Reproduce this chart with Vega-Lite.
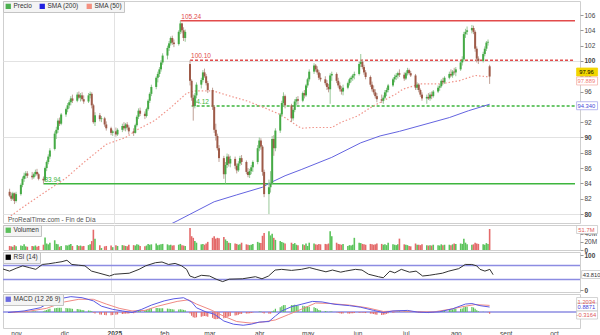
{
"$schema": "https://vega.github.io/schema/vega-lite/v6.json",
"padding": 0,
"spacing": 2,
"bounds": "flush",
"background": "white",
"config": {
  "font": "Liberation Sans",
  "view": {"stroke": "#cfcfcf"},
  "legend": {"orient": "top-left", "offset": 0, "padding": 2, "direction": "horizontal", "fillColor": "#f4f4f4", "strokeColor": "#c4c4c4", "symbolType": "square", "symbolSize": 28, "symbolStrokeWidth": 0, "labelFontSize": 6.5, "labelColor": "#333", "labelOffset": 2, "columnPadding": 7, "symbolOpacity": 1},
  "axis": {"labelFontSize": 6.5, "labelColor": "#444", "labelOverlap": false}
},
"resolve": {"scale": {"color": "independent"}, "legend": {"color": "independent"}},
"datasets": {
"candles": [
{"d":"2024-10-28","o":82.9,"h":83.3,"l":82.2,"c":82.4,"v":10,"m":-0.1},
{"d":"2024-10-29","o":82.4,"h":82.8,"l":81.7,"c":82.0,"v":9,"m":-0.1},
{"d":"2024-10-30","o":82.0,"h":82.9,"l":81.8,"c":82.7,"v":8,"m":0},
{"d":"2024-10-31","o":82.7,"h":82.8,"l":81.3,"c":81.7,"v":12,"m":-0.1},
{"d":"2024-11-01","o":81.7,"h":82.9,"l":81.5,"c":82.6,"v":9,"m":0.05},
{"d":"2024-11-04","o":82.6,"h":84.0,"l":82.4,"c":83.8,"v":11,"m":0.1},
{"d":"2024-11-05","o":83.8,"h":84.9,"l":83.5,"c":84.6,"v":10,"m":0.15},
{"d":"2024-11-06","o":84.6,"h":85.4,"l":84.2,"c":85.0,"v":14,"m":0.2},
{"d":"2024-11-07","o":85.0,"h":85.6,"l":84.6,"c":85.3,"v":9,"m":0.2},
{"d":"2024-11-08","o":85.3,"h":85.6,"l":84.7,"c":85.0,"v":8,"m":0.15},
{"d":"2024-11-11","o":85.0,"h":85.5,"l":84.5,"c":84.8,"v":10,"m":0.1},
{"d":"2024-11-12","o":84.8,"h":85.4,"l":84.6,"c":85.2,"v":9,"m":0.1},
{"d":"2024-11-13","o":85.2,"h":85.8,"l":84.9,"c":85.5,"v":11,"m":0.1},
{"d":"2024-11-14","o":85.5,"h":85.9,"l":85.0,"c":85.2,"v":8,"m":0.05},
{"d":"2024-11-15","o":85.2,"h":85.4,"l":84.4,"c":84.6,"v":10,"m":0},
{"d":"2024-11-18","o":84.6,"h":84.9,"l":83.94,"c":84.4,"v":13,"m":0.1},
{"d":"2024-11-19","o":84.4,"h":86.2,"l":84.2,"c":86.0,"v":31,"m":0.3},
{"d":"2024-11-20","o":86.0,"h":87.0,"l":85.6,"c":86.8,"v":16,"m":0.4},
{"d":"2024-11-21","o":86.8,"h":87.8,"l":86.5,"c":87.5,"v":14,"m":0.5},
{"d":"2024-11-22","o":87.5,"h":88.6,"l":87.2,"c":88.3,"v":18,"m":0.6},
{"d":"2024-11-25","o":88.5,"h":90.8,"l":88.3,"c":90.5,"v":24,"m":0.7},
{"d":"2024-11-26","o":90.5,"h":91.4,"l":89.8,"c":91.0,"v":15,"m":0.75},
{"d":"2024-11-27","o":91.0,"h":92.5,"l":90.6,"c":92.2,"v":14,"m":0.8},
{"d":"2024-11-28","o":92.2,"h":92.6,"l":91.5,"c":91.8,"v":8,"m":0.8},
{"d":"2024-11-29","o":91.8,"h":93.2,"l":91.6,"c":93.0,"v":10,"m":0.8},
{"d":"2024-12-02","o":93.0,"h":93.9,"l":92.7,"c":93.7,"v":12,"m":0.75},
{"d":"2024-12-03","o":93.7,"h":94.5,"l":93.3,"c":94.2,"v":11,"m":0.7},
{"d":"2024-12-04","o":94.2,"h":94.9,"l":93.8,"c":94.6,"v":13,"m":0.7},
{"d":"2024-12-05","o":94.6,"h":95.4,"l":94.2,"c":95.1,"v":15,"m":0.65},
{"d":"2024-12-06","o":95.1,"h":95.6,"l":94.5,"c":94.8,"v":10,"m":0.6},
{"d":"2024-12-09","o":94.8,"h":95.9,"l":94.6,"c":95.6,"v":12,"m":0.55},
{"d":"2024-12-10","o":95.6,"h":96.0,"l":95.0,"c":95.2,"v":10,"m":0.5},
{"d":"2024-12-11","o":95.2,"h":95.8,"l":94.7,"c":95.5,"v":11,"m":0.45},
{"d":"2024-12-12","o":95.5,"h":95.9,"l":94.8,"c":95.0,"v":9,"m":0.4},
{"d":"2024-12-13","o":95.0,"h":95.5,"l":94.4,"c":94.7,"v":10,"m":0.35},
{"d":"2024-12-16","o":94.7,"h":95.8,"l":94.5,"c":95.5,"v":12,"m":0.3},
{"d":"2024-12-17","o":95.5,"h":96.0,"l":95.1,"c":95.7,"v":14,"m":0.25},
{"d":"2024-12-18","o":95.7,"h":95.9,"l":93.8,"c":94.2,"v":22,"m":0.15},
{"d":"2024-12-19","o":94.2,"h":94.4,"l":91.8,"c":92.0,"v":50,"m":-0.1},
{"d":"2024-12-20","o":92.0,"h":93.3,"l":91.5,"c":92.9,"v":28,"m":-0.3},
{"d":"2024-12-23","o":92.9,"h":93.2,"l":92.1,"c":92.4,"v":12,"m":-0.45},
{"d":"2024-12-24","o":92.4,"h":92.8,"l":92.0,"c":92.5,"v":5,"m":-0.5},
{"d":"2024-12-26","o":92.5,"h":92.7,"l":91.4,"c":91.7,"v":9,"m":-0.55},
{"d":"2024-12-27","o":91.7,"h":92.1,"l":90.9,"c":91.2,"v":10,"m":-0.6},
{"d":"2024-12-30","o":91.2,"h":91.4,"l":90.3,"c":90.6,"v":11,"m":-0.6},
{"d":"2024-12-31","o":90.6,"h":91.0,"l":90.2,"c":90.8,"v":7,"m":-0.55},
{"d":"2025-01-02","o":90.8,"h":91.3,"l":90.1,"c":90.4,"v":12,"m":-0.5},
{"d":"2025-01-03","o":90.4,"h":91.2,"l":90.2,"c":91.0,"v":10,"m":-0.45},
{"d":"2025-01-06","o":91.0,"h":91.8,"l":90.7,"c":91.5,"v":12,"m":-0.4},
{"d":"2025-01-07","o":91.5,"h":92.0,"l":90.9,"c":91.2,"v":11,"m":-0.35},
{"d":"2025-01-08","o":91.2,"h":91.9,"l":90.8,"c":91.7,"v":10,"m":-0.3},
{"d":"2025-01-09","o":91.7,"h":92.0,"l":91.0,"c":91.3,"v":9,"m":-0.3},
{"d":"2025-01-10","o":91.3,"h":91.6,"l":90.4,"c":90.8,"v":13,"m":-0.3},
{"d":"2025-01-13","o":90.8,"h":91.2,"l":90.2,"c":90.6,"v":12,"m":-0.25},
{"d":"2025-01-14","o":90.6,"h":91.8,"l":90.5,"c":91.6,"v":11,"m":-0.1},
{"d":"2025-01-15","o":91.6,"h":92.9,"l":91.4,"c":92.7,"v":14,"m":0.1},
{"d":"2025-01-16","o":92.7,"h":93.8,"l":92.4,"c":93.5,"v":13,"m":0.3},
{"d":"2025-01-17","o":93.5,"h":93.9,"l":92.8,"c":93.1,"v":10,"m":0.35},
{"d":"2025-01-20","o":93.1,"h":93.4,"l":92.4,"c":92.8,"v":9,"m":0.35},
{"d":"2025-01-21","o":92.8,"h":93.9,"l":92.6,"c":93.7,"v":11,"m":0.4},
{"d":"2025-01-22","o":93.7,"h":95.0,"l":93.5,"c":94.8,"v":15,"m":0.5},
{"d":"2025-01-23","o":94.8,"h":95.9,"l":94.5,"c":95.7,"v":13,"m":0.6},
{"d":"2025-01-24","o":95.7,"h":96.9,"l":95.4,"c":96.6,"v":14,"m":0.7},
{"d":"2025-01-27","o":96.6,"h":98.0,"l":96.3,"c":97.8,"v":16,"m":0.75},
{"d":"2025-01-28","o":97.8,"h":98.6,"l":97.2,"c":98.3,"v":12,"m":0.75},
{"d":"2025-01-29","o":98.3,"h":99.2,"l":97.9,"c":98.9,"v":13,"m":0.7},
{"d":"2025-01-30","o":98.9,"h":100.1,"l":98.6,"c":99.8,"v":14,"m":0.7},
{"d":"2025-01-31","o":99.8,"h":101.0,"l":99.5,"c":100.7,"v":15,"m":0.7},
{"d":"2025-02-03","o":100.7,"h":102.0,"l":100.2,"c":101.7,"v":14,"m":0.65},
{"d":"2025-02-04","o":101.7,"h":102.6,"l":101.3,"c":102.3,"v":12,"m":0.6},
{"d":"2025-02-05","o":102.3,"h":103.2,"l":102.0,"c":103.0,"v":13,"m":0.55},
{"d":"2025-02-06","o":103.0,"h":103.3,"l":102.1,"c":102.4,"v":11,"m":0.5},
{"d":"2025-02-07","o":102.4,"h":102.8,"l":101.8,"c":102.2,"v":12,"m":0.45},
{"d":"2025-02-10","o":102.2,"h":104.0,"l":102.0,"c":103.8,"v":13,"m":0.45},
{"d":"2025-02-11","o":103.8,"h":105.24,"l":103.5,"c":104.9,"v":15,"m":0.5},
{"d":"2025-02-12","o":104.9,"h":105.0,"l":103.6,"c":104.0,"v":12,"m":0.45},
{"d":"2025-02-13","o":104.0,"h":104.4,"l":102.6,"c":103.0,"v":11,"m":0.4},
{"d":"2025-02-14","o":103.0,"h":104.1,"l":102.5,"c":103.8,"v":10,"m":0.35},
{"d":"2025-02-17","o":99.6,"h":100.1,"l":96.8,"c":97.4,"v":54,"m":-0.3},
{"d":"2025-02-18","o":97.4,"h":97.6,"l":94.8,"c":95.2,"v":34,"m":-0.7},
{"d":"2025-02-19","o":95.2,"h":95.6,"l":92.2,"c":94.1,"v":30,"m":-1.0},
{"d":"2025-02-20","o":94.1,"h":95.8,"l":93.8,"c":95.5,"v":22,"m":-1.1},
{"d":"2025-02-21","o":95.5,"h":97.2,"l":95.1,"c":96.9,"v":18,"m":-1.0},
{"d":"2025-02-24","o":96.9,"h":97.8,"l":96.4,"c":97.5,"v":14,"m":-0.9},
{"d":"2025-02-25","o":97.5,"h":98.8,"l":97.2,"c":98.5,"v":15,"m":-0.8},
{"d":"2025-02-26","o":98.5,"h":99.0,"l":97.8,"c":98.0,"v":13,"m":-0.75},
{"d":"2025-02-27","o":98.0,"h":98.3,"l":96.8,"c":97.1,"v":16,"m":-0.8},
{"d":"2025-02-28","o":97.1,"h":97.4,"l":95.8,"c":96.2,"v":20,"m":-0.9},
{"d":"2025-03-03","o":96.2,"h":96.5,"l":93.6,"c":94.0,"v":30,"m":-1.1},
{"d":"2025-03-04","o":94.0,"h":94.2,"l":90.6,"c":91.0,"v":34,"m":-1.3},
{"d":"2025-03-05","o":91.0,"h":91.8,"l":89.6,"c":90.2,"v":28,"m":-1.35},
{"d":"2025-03-06","o":90.2,"h":90.5,"l":88.3,"c":88.6,"v":30,"m":-1.3},
{"d":"2025-03-07","o":88.6,"h":89.0,"l":86.8,"c":87.3,"v":29,"m":-1.25},
{"d":"2025-03-10","o":87.3,"h":87.6,"l":84.6,"c":85.2,"v":32,"m":-1.2},
{"d":"2025-03-11","o":85.2,"h":86.8,"l":84.0,"c":86.4,"v":26,"m":-1.1},
{"d":"2025-03-12","o":86.4,"h":87.9,"l":86.0,"c":87.5,"v":22,"m":-0.95},
{"d":"2025-03-13","o":87.5,"h":87.8,"l":86.2,"c":86.6,"v":18,"m":-0.85},
{"d":"2025-03-14","o":86.6,"h":87.6,"l":86.1,"c":87.2,"v":17,"m":-0.75},
{"d":"2025-03-17","o":87.2,"h":87.5,"l":85.9,"c":86.3,"v":16,"m":-0.65},
{"d":"2025-03-18","o":86.3,"h":86.6,"l":85.3,"c":85.7,"v":15,"m":-0.6},
{"d":"2025-03-19","o":85.7,"h":86.9,"l":85.5,"c":86.6,"v":13,"m":-0.5},
{"d":"2025-03-20","o":86.6,"h":87.6,"l":86.3,"c":87.3,"v":14,"m":-0.4},
{"d":"2025-03-21","o":87.3,"h":87.7,"l":86.4,"c":86.8,"v":18,"m":-0.35},
{"d":"2025-03-24","o":86.8,"h":87.0,"l":85.2,"c":85.5,"v":14,"m":-0.3},
{"d":"2025-03-25","o":85.5,"h":86.0,"l":84.8,"c":85.1,"v":13,"m":-0.3},
{"d":"2025-03-26","o":85.1,"h":85.9,"l":84.7,"c":85.6,"v":12,"m":-0.25},
{"d":"2025-03-27","o":85.6,"h":86.4,"l":85.2,"c":86.1,"v":13,"m":-0.2},
{"d":"2025-03-28","o":86.1,"h":87.0,"l":85.5,"c":86.8,"v":15,"m":-0.1},
{"d":"2025-03-31","o":86.8,"h":89.0,"l":86.5,"c":88.6,"v":20,"m":0},
{"d":"2025-04-01","o":88.6,"h":90.0,"l":88.2,"c":89.6,"v":18,"m":0.1},
{"d":"2025-04-02","o":89.6,"h":89.9,"l":88.4,"c":88.8,"v":17,"m":0.1},
{"d":"2025-04-03","o":88.8,"h":89.0,"l":85.0,"c":85.5,"v":35,"m":-0.1},
{"d":"2025-04-04","o":85.5,"h":85.8,"l":82.2,"c":82.6,"v":42,"m":-0.3},
{"d":"2025-04-07","o":82.6,"h":84.5,"l":80.0,"c":83.5,"v":46,"m":-0.35},
{"d":"2025-04-08","o":83.5,"h":85.6,"l":82.8,"c":84.0,"v":36,"m":-0.3},
{"d":"2025-04-09","o":84.0,"h":90.2,"l":83.8,"c":89.8,"v":40,"m":0.1},
{"d":"2025-04-10","o":89.8,"h":90.3,"l":87.6,"c":88.6,"v":30,"m":0.3},
{"d":"2025-04-11","o":88.6,"h":91.2,"l":88.2,"c":90.9,"v":25,"m":0.6},
{"d":"2025-04-14","o":90.9,"h":93.2,"l":90.6,"c":93.0,"v":22,"m":0.9},
{"d":"2025-04-15","o":93.0,"h":94.8,"l":92.7,"c":94.5,"v":20,"m":1.1},
{"d":"2025-04-16","o":94.5,"h":95.9,"l":94.0,"c":95.4,"v":18,"m":1.3},
{"d":"2025-04-17","o":95.4,"h":95.6,"l":93.8,"c":94.2,"v":16,"m":1.3},
{"d":"2025-04-21","o":94.2,"h":94.4,"l":92.0,"c":92.5,"v":18,"m":1.3},
{"d":"2025-04-22","o":92.5,"h":93.8,"l":92.2,"c":93.6,"v":15,"m":1.3},
{"d":"2025-04-23","o":93.6,"h":95.0,"l":93.3,"c":94.7,"v":17,"m":1.35},
{"d":"2025-04-24","o":94.7,"h":95.3,"l":94.2,"c":95.0,"v":13,"m":1.3},
{"d":"2025-04-25","o":95.0,"h":95.4,"l":94.3,"c":94.8,"v":12,"m":1.25},
{"d":"2025-04-28","o":94.8,"h":96.0,"l":94.6,"c":95.8,"v":14,"m":1.2},
{"d":"2025-04-29","o":95.8,"h":96.2,"l":95.1,"c":95.5,"v":12,"m":1.1},
{"d":"2025-04-30","o":95.5,"h":97.0,"l":95.3,"c":96.8,"v":16,"m":1.05},
{"d":"2025-05-01","o":96.8,"h":97.8,"l":96.5,"c":97.6,"v":10,"m":1.0},
{"d":"2025-05-02","o":97.6,"h":98.9,"l":97.3,"c":98.6,"v":18,"m":1.0},
{"d":"2025-05-05","o":98.6,"h":99.7,"l":98.3,"c":99.4,"v":16,"m":0.9},
{"d":"2025-05-06","o":99.4,"h":99.6,"l":98.6,"c":98.9,"v":14,"m":0.75},
{"d":"2025-05-07","o":98.9,"h":99.3,"l":98.2,"c":98.5,"v":13,"m":0.6},
{"d":"2025-05-08","o":98.5,"h":98.8,"l":97.5,"c":97.8,"v":15,"m":0.4},
{"d":"2025-05-09","o":97.8,"h":98.4,"l":97.3,"c":97.6,"v":14,"m":0.3},
{"d":"2025-05-12","o":97.6,"h":98.0,"l":96.8,"c":97.1,"v":15,"m":0.2},
{"d":"2025-05-13","o":97.1,"h":97.5,"l":96.2,"c":96.6,"v":14,"m":0.1},
{"d":"2025-05-14","o":96.6,"h":97.0,"l":95.9,"c":96.3,"v":16,"m":0},
{"d":"2025-05-15","o":96.3,"h":98.4,"l":94.4,"c":98.1,"v":46,"m":0.1},
{"d":"2025-05-16","o":98.1,"h":98.6,"l":97.4,"c":98.3,"v":34,"m":0.1},
{"d":"2025-05-19","o":98.3,"h":98.5,"l":97.1,"c":97.4,"v":18,"m":-0.05},
{"d":"2025-05-20","o":97.4,"h":97.8,"l":96.5,"c":96.8,"v":15,"m":-0.15},
{"d":"2025-05-21","o":96.8,"h":97.2,"l":96.0,"c":96.3,"v":14,"m":-0.25},
{"d":"2025-05-22","o":96.3,"h":96.7,"l":95.6,"c":96.0,"v":13,"m":-0.3},
{"d":"2025-05-23","o":96.0,"h":96.9,"l":95.5,"c":96.5,"v":15,"m":-0.3},
{"d":"2025-05-26","o":96.5,"h":97.3,"l":96.3,"c":97.1,"v":10,"m":-0.3},
{"d":"2025-05-27","o":97.1,"h":97.8,"l":96.8,"c":97.6,"v":12,"m":-0.3},
{"d":"2025-05-28","o":97.6,"h":98.0,"l":97.2,"c":97.8,"v":11,"m":-0.25},
{"d":"2025-05-29","o":97.8,"h":98.3,"l":97.4,"c":98.1,"v":13,"m":-0.25},
{"d":"2025-05-30","o":98.1,"h":98.6,"l":97.6,"c":98.3,"v":30,"m":-0.2},
{"d":"2025-06-02","o":98.3,"h":99.9,"l":98.1,"c":99.6,"v":18,"m":-0.15},
{"d":"2025-06-03","o":99.6,"h":100.9,"l":99.2,"c":99.9,"v":17,"m":-0.1},
{"d":"2025-06-04","o":99.9,"h":100.2,"l":98.9,"c":99.2,"v":15,"m":-0.1},
{"d":"2025-06-05","o":99.2,"h":99.5,"l":98.2,"c":98.5,"v":14,"m":-0.15},
{"d":"2025-06-06","o":98.5,"h":98.8,"l":97.6,"c":97.9,"v":13,"m":-0.2},
{"d":"2025-06-09","o":97.9,"h":98.1,"l":96.6,"c":96.9,"v":15,"m":-0.3},
{"d":"2025-06-10","o":96.9,"h":97.3,"l":96.0,"c":96.3,"v":14,"m":-0.35},
{"d":"2025-06-11","o":96.3,"h":96.8,"l":95.6,"c":95.9,"v":13,"m":-0.4},
{"d":"2025-06-12","o":95.9,"h":96.3,"l":95.1,"c":95.4,"v":14,"m":-0.45},
{"d":"2025-06-13","o":95.4,"h":95.8,"l":94.6,"c":95.0,"v":16,"m":-0.5},
{"d":"2025-06-16","o":95.0,"h":95.6,"l":94.5,"c":94.8,"v":15,"m":-0.55},
{"d":"2025-06-17","o":94.8,"h":95.5,"l":94.4,"c":95.2,"v":13,"m":-0.5},
{"d":"2025-06-18","o":95.2,"h":96.2,"l":95.0,"c":95.9,"v":14,"m":-0.45},
{"d":"2025-06-19","o":95.9,"h":96.5,"l":95.4,"c":96.2,"v":12,"m":-0.35},
{"d":"2025-06-20","o":96.2,"h":97.0,"l":95.9,"c":96.8,"v":18,"m":-0.25},
{"d":"2025-06-23","o":96.8,"h":97.8,"l":96.6,"c":97.6,"v":14,"m":-0.15},
{"d":"2025-06-24","o":97.6,"h":98.2,"l":97.2,"c":97.9,"v":13,"m":-0.05},
{"d":"2025-06-25","o":97.9,"h":98.4,"l":97.5,"c":98.1,"v":12,"m":0.05},
{"d":"2025-06-26","o":98.1,"h":98.6,"l":97.7,"c":98.4,"v":14,"m":0.1},
{"d":"2025-06-27","o":98.4,"h":98.9,"l":97.9,"c":98.2,"v":28,"m":0.15},
{"d":"2025-06-30","o":98.2,"h":98.5,"l":97.4,"c":97.7,"v":14,"m":0.15},
{"d":"2025-07-01","o":97.7,"h":98.6,"l":97.5,"c":98.4,"v":13,"m":0.15},
{"d":"2025-07-02","o":98.4,"h":99.1,"l":98.1,"c":98.8,"v":12,"m":0.2},
{"d":"2025-07-03","o":98.8,"h":99.0,"l":98.2,"c":98.4,"v":10,"m":0.2},
{"d":"2025-07-04","o":98.4,"h":98.7,"l":97.9,"c":98.1,"v":9,"m":0.15},
{"d":"2025-07-07","o":98.1,"h":98.3,"l":96.2,"c":96.5,"v":16,"m":0.05},
{"d":"2025-07-08","o":96.5,"h":97.2,"l":96.2,"c":96.9,"v":13,"m":0},
{"d":"2025-07-09","o":96.9,"h":97.1,"l":95.9,"c":96.2,"v":13,"m":-0.1},
{"d":"2025-07-10","o":96.2,"h":96.4,"l":95.3,"c":95.6,"v":12,"m":-0.15},
{"d":"2025-07-11","o":95.6,"h":95.9,"l":94.8,"c":95.1,"v":14,"m":-0.2},
{"d":"2025-07-14","o":95.1,"h":95.6,"l":94.4,"c":95.3,"v":12,"m":-0.2},
{"d":"2025-07-15","o":95.3,"h":95.8,"l":94.9,"c":95.1,"v":11,"m":-0.2},
{"d":"2025-07-16","o":95.1,"h":95.9,"l":94.8,"c":95.6,"v":12,"m":-0.15},
{"d":"2025-07-17","o":95.6,"h":96.0,"l":95.0,"c":95.4,"v":11,"m":-0.15},
{"d":"2025-07-18","o":95.4,"h":96.2,"l":95.2,"c":96.0,"v":13,"m":-0.1},
{"d":"2025-07-21","o":96.0,"h":96.8,"l":95.8,"c":96.5,"v":12,"m":0},
{"d":"2025-07-22","o":96.5,"h":97.0,"l":96.1,"c":96.7,"v":11,"m":0.05},
{"d":"2025-07-23","o":96.7,"h":97.6,"l":96.5,"c":97.4,"v":14,"m":0.15},
{"d":"2025-07-24","o":97.4,"h":97.8,"l":96.9,"c":97.2,"v":12,"m":0.2},
{"d":"2025-07-25","o":97.2,"h":98.0,"l":97.0,"c":97.8,"v":13,"m":0.3},
{"d":"2025-07-28","o":97.8,"h":98.6,"l":97.6,"c":98.3,"v":13,"m":0.4},
{"d":"2025-07-29","o":98.3,"h":98.9,"l":97.9,"c":98.1,"v":12,"m":0.45},
{"d":"2025-07-30","o":98.1,"h":98.8,"l":97.8,"c":98.6,"v":14,"m":0.5},
{"d":"2025-07-31","o":98.6,"h":99.1,"l":98.2,"c":98.5,"v":16,"m":0.55},
{"d":"2025-08-01","o":98.5,"h":99.2,"l":98.0,"c":98.9,"v":15,"m":0.6},
{"d":"2025-08-04","o":98.9,"h":100.0,"l":98.7,"c":99.8,"v":16,"m":0.6},
{"d":"2025-08-05","o":99.8,"h":100.6,"l":99.4,"c":100.2,"v":15,"m":0.65},
{"d":"2025-08-06","o":100.2,"h":103.8,"l":100.0,"c":103.5,"v":28,"m":0.9},
{"d":"2025-08-07","o":103.5,"h":104.2,"l":103.0,"c":103.8,"v":18,"m":1.0},
{"d":"2025-08-08","o":103.8,"h":104.5,"l":103.4,"c":104.0,"v":14,"m":1.0},
{"d":"2025-08-11","o":104.0,"h":104.7,"l":103.6,"c":104.3,"v":13,"m":0.95},
{"d":"2025-08-12","o":104.3,"h":104.6,"l":103.5,"c":103.8,"v":14,"m":0.85},
{"d":"2025-08-13","o":103.8,"h":104.0,"l":101.2,"c":101.6,"v":18,"m":0.6},
{"d":"2025-08-14","o":101.6,"h":101.9,"l":99.8,"c":100.3,"v":16,"m":0.35},
{"d":"2025-08-15","o":100.3,"h":100.6,"l":99.6,"c":100.0,"v":15,"m":0.15},
{"d":"2025-08-18","o":100.0,"h":101.2,"l":99.8,"c":100.9,"v":14,"m":0.05},
{"d":"2025-08-19","o":100.9,"h":101.9,"l":100.6,"c":101.6,"v":13,"m":0},
{"d":"2025-08-20","o":101.6,"h":102.6,"l":101.3,"c":102.4,"v":17,"m":0},
{"d":"2025-08-21","o":102.4,"h":102.8,"l":102.0,"c":102.5,"v":15,"m":-0.05},
{"d":"2025-08-22","o":99.3,"h":99.5,"l":97.0,"c":97.96,"v":51.7,"m":-0.32}
],
"sma50": [
{"d":"2024-10-27","p":79.5},{"d":"2024-11-08","p":81.3},{"d":"2024-11-20","p":83.0},{"d":"2024-12-02","p":84.7},{"d":"2024-12-14","p":86.9},{"d":"2024-12-27","p":89.1},{"d":"2025-01-08","p":90.0},{"d":"2025-01-16","p":91.1},{"d":"2025-01-26","p":92.2},{"d":"2025-02-05","p":93.9},{"d":"2025-02-15","p":95.8},{"d":"2025-02-21","p":96.1},{"d":"2025-03-03","p":96.1},{"d":"2025-03-14","p":95.4},{"d":"2025-03-24","p":94.8},{"d":"2025-04-04","p":93.9},{"d":"2025-04-14","p":93.0},{"d":"2025-04-27","p":91.2},{"d":"2025-05-04","p":91.3},{"d":"2025-05-16","p":91.3},{"d":"2025-05-22","p":92.0},{"d":"2025-06-01","p":92.8},{"d":"2025-06-09","p":93.9},{"d":"2025-06-17","p":94.8},{"d":"2025-06-25","p":95.7},{"d":"2025-06-29","p":96.3},{"d":"2025-07-10","p":97.0},{"d":"2025-07-22","p":97.0},{"d":"2025-08-03","p":97.4},{"d":"2025-08-13","p":98.1},{"d":"2025-08-22","p":97.9}
],
"sma200": [
{"d":"2025-01-20","p":77.0},{"d":"2025-02-09","p":79.1},{"d":"2025-03-04","p":81.6},{"d":"2025-03-18","p":82.5},{"d":"2025-04-03","p":83.5},{"d":"2025-04-07","p":84.0},{"d":"2025-04-17","p":85.0},{"d":"2025-04-27","p":85.8},{"d":"2025-05-16","p":87.4},{"d":"2025-06-03","p":89.3},{"d":"2025-06-15","p":90.2},{"d":"2025-06-27","p":90.8},{"d":"2025-07-16","p":91.9},{"d":"2025-07-28","p":92.6},{"d":"2025-08-09","p":93.5},{"d":"2025-08-22","p":94.34}
],
"levels": [
{"d":"2025-02-11","e":"2025-10-14","p":105.24,"side":"resistance","kind":"major"},
{"d":"2025-02-17","e":"2025-10-14","p":100.10,"side":"resistance","kind":"minor"},
{"d":"2025-02-18","e":"2025-10-14","p":94.12,"side":"support","kind":"minor"},
{"d":"2024-11-18","e":"2025-10-14","p":83.94,"side":"support","kind":"major"}
],
"rsi": [
{"d":"2024-10-27","r":60},{"d":"2024-10-31","r":54},{"d":"2024-11-04","r":62},{"d":"2024-11-08","r":69},{"d":"2024-11-12","r":64},{"d":"2024-11-16","r":59},{"d":"2024-11-20","r":73},{"d":"2024-11-24","r":75},{"d":"2024-11-28","r":78},{"d":"2024-12-02","r":81},{"d":"2024-12-05","r":85},{"d":"2024-12-08","r":73},{"d":"2024-12-12","r":71},{"d":"2024-12-16","r":69},{"d":"2024-12-20","r":54},{"d":"2024-12-24","r":49},{"d":"2024-12-31","r":40},{"d":"2025-01-03","r":45},{"d":"2025-01-12","r":48},{"d":"2025-01-18","r":59},{"d":"2025-01-22","r":69},{"d":"2025-01-28","r":78},{"d":"2025-02-01","r":80},{"d":"2025-02-05","r":73},{"d":"2025-02-09","r":76},{"d":"2025-02-13","r":69},{"d":"2025-02-16","r":59},{"d":"2025-02-18","r":40},{"d":"2025-02-21","r":35},{"d":"2025-02-25","r":42},{"d":"2025-03-02","r":40},{"d":"2025-03-06","r":31},{"d":"2025-03-10","r":24},{"d":"2025-03-14","r":31},{"d":"2025-03-22","r":32},{"d":"2025-03-30","r":38},{"d":"2025-04-03","r":32},{"d":"2025-04-07","r":40},{"d":"2025-04-11","r":57},{"d":"2025-04-15","r":59},{"d":"2025-04-21","r":56},{"d":"2025-04-27","r":59},{"d":"2025-05-02","r":64},{"d":"2025-05-06","r":59},{"d":"2025-05-12","r":52},{"d":"2025-05-16","r":57},{"d":"2025-05-21","r":51},{"d":"2025-05-24","r":54},{"d":"2025-05-30","r":59},{"d":"2025-06-03","r":57},{"d":"2025-06-07","r":45},{"d":"2025-06-13","r":38},{"d":"2025-06-16","r":35},{"d":"2025-06-20","r":54},{"d":"2025-06-23","r":49},{"d":"2025-06-27","r":59},{"d":"2025-07-02","r":51},{"d":"2025-07-06","r":54},{"d":"2025-07-10","r":40},{"d":"2025-07-14","r":42},{"d":"2025-07-18","r":45},{"d":"2025-07-22","r":48},{"d":"2025-07-26","r":54},{"d":"2025-08-01","r":61},{"d":"2025-08-05","r":73},{"d":"2025-08-09","r":73},{"d":"2025-08-12","r":69},{"d":"2025-08-14","r":59},{"d":"2025-08-17","r":54},{"d":"2025-08-20","r":59},{"d":"2025-08-22","r":43.81}
],
"macd": [
{"d":"2024-10-27","v":-0.1},{"d":"2024-11-06","v":0.2},{"d":"2024-11-16","v":0.8},{"d":"2024-11-22","v":1.8},{"d":"2024-11-28","v":2.5},{"d":"2024-12-05","v":2.9},{"d":"2024-12-12","v":2.7},{"d":"2024-12-19","v":2.1},{"d":"2024-12-24","v":1.1},{"d":"2024-12-31","v":0.5},{"d":"2025-01-06","v":0.2},{"d":"2025-01-12","v":-0.1},{"d":"2025-01-18","v":0.5},{"d":"2025-01-24","v":1.3},{"d":"2025-02-01","v":2.1},{"d":"2025-02-07","v":2.5},{"d":"2025-02-13","v":2.7},{"d":"2025-02-18","v":1.9},{"d":"2025-02-21","v":0.8},{"d":"2025-02-27","v":0},{"d":"2025-03-04","v":-0.4},{"d":"2025-03-10","v":-1.7},{"d":"2025-03-16","v":-2.3},{"d":"2025-03-22","v":-2.5},{"d":"2025-03-27","v":-2.3},{"d":"2025-04-01","v":-1.9},{"d":"2025-04-07","v":-1.8},{"d":"2025-04-11","v":-0.75},{"d":"2025-04-15","v":0.2},{"d":"2025-04-21","v":1.0},{"d":"2025-04-27","v":1.45},{"d":"2025-05-04","v":2.0},{"d":"2025-05-10","v":1.9},{"d":"2025-05-18","v":1.45},{"d":"2025-05-27","v":1.2},{"d":"2025-06-03","v":0.9},{"d":"2025-06-11","v":0.3},{"d":"2025-06-17","v":-0.1},{"d":"2025-06-23","v":0.2},{"d":"2025-07-02","v":0.3},{"d":"2025-07-08","v":0},{"d":"2025-07-14","v":-0.1},{"d":"2025-07-22","v":0.05},{"d":"2025-07-30","v":0.6},{"d":"2025-08-07","v":1.5},{"d":"2025-08-11","v":1.6},{"d":"2025-08-16","v":1.2},{"d":"2025-08-22","v":0.94}
],
"signal": [
{"d":"2024-10-27","v":-0.1},{"d":"2024-11-08","v":0.1},{"d":"2024-11-20","v":0.7},{"d":"2024-12-01","v":1.9},{"d":"2024-12-10","v":2.4},{"d":"2024-12-19","v":2.4},{"d":"2024-12-27","v":1.5},{"d":"2025-01-04","v":0.7},{"d":"2025-01-12","v":0.2},{"d":"2025-01-20","v":0.3},{"d":"2025-01-28","v":1.1},{"d":"2025-02-09","v":2.0},{"d":"2025-02-16","v":2.3},{"d":"2025-02-21","v":1.5},{"d":"2025-03-02","v":0.4},{"d":"2025-03-10","v":-0.8},{"d":"2025-03-18","v":-1.8},{"d":"2025-03-27","v":-2.1},{"d":"2025-04-03","v":-1.9},{"d":"2025-04-11","v":-1.5},{"d":"2025-04-19","v":-0.5},{"d":"2025-04-27","v":0.5},{"d":"2025-05-06","v":1.7},{"d":"2025-05-15","v":1.6},{"d":"2025-05-27","v":1.3},{"d":"2025-06-07","v":0.8},{"d":"2025-06-17","v":0.1},{"d":"2025-06-27","v":0.2},{"d":"2025-07-08","v":0.05},{"d":"2025-07-18","v":0},{"d":"2025-07-28","v":0.5},{"d":"2025-08-07","v":1.1},{"d":"2025-08-13","v":1.4},{"d":"2025-08-22","v":1.25}
]
},
"vconcat": [
{
"width": 577, "height": 222,
"resolve": {"axis": {"x": "independent", "y": "independent"}},
"layer": [
{"data": {"values": [{"s":"Precio"},{"s":"SMA (200)"},{"s":"SMA (50)"}]},
 "mark": {"type":"square","opacity":0},
 "encoding": {"color": {"field":"s","type":"nominal","scale":{"domain":["Precio","SMA (200)","SMA (50)"],"range":["#4caf50","#2020e0","#f4907f"]},"legend":{"title":null}}}},
{"data": {"name":"levels"},
 "mark": {"type":"rule","strokeWidth":1.5},
 "encoding": {
  "x": {"field":"d","type":"temporal","title":null,"scale":{"type":"utc","nice":false,"domain":[{"year":2024,"month":10,"date":27,"utc":true},{"year":2025,"month":10,"date":14,"utc":true}]},"axis":{"orient":"bottom","values":[{"year":2025,"month":1,"date":1,"utc":true}],"grid":true,"gridColor":"#e2e2e2","labels":false,"ticks":false,"domain":false}},
  "x2": {"field":"e"},
  "y": {"field":"p","type":"quantitative","title":null,"scale":{"domain":[78.825,107.83],"nice":false,"zero":false},"axis":{"orient":"right","values":[80,82,84,86,88,90,92,94,96,98,100,102,104,106],"tickSize":3,"tickColor":"#999","domain":false,"labelPadding":1,"grid":true,"gridColor":"#e2e2e2","gridOpacity":{"condition":{"test":"datum.value % 10 === 0","value":1},"value":0},"labelFontWeight":{"condition":{"test":"datum.value % 10 === 0","value":"bold"},"value":"normal"}}},
  "stroke": {"condition":{"test":"datum.side === 'resistance'","value":"#e24b4b"},"value":"#3db53d"},
  "strokeDash": {"condition":{"test":"datum.kind === 'minor'","value":[3,2]},"value":[1,0]}
 }},
{"data": {"name":"levels"},
 "mark": {"type":"text","align":"left","baseline":"bottom","dx":1,"dy":-1,"fontSize":6.5},
 "encoding": {
  "x": {"field":"d","type":"temporal","scale":{"type":"utc","nice":false,"domain":[{"year":2024,"month":10,"date":27,"utc":true},{"year":2025,"month":10,"date":14,"utc":true}]},"axis":null},
  "y": {"field":"p","type":"quantitative","scale":{"domain":[78.825,107.83],"nice":false,"zero":false},"axis":null},
  "text": {"field":"p","type":"quantitative","format":".2f"},
  "color": {"condition":{"test":"datum.side === 'resistance'","value":"#e24b4b"},"value":"#3db53d"}
 }},
{"data": {"name":"sma50"},
 "mark": {"type":"line","color":"#f0948a","strokeWidth":1.2,"strokeDash":[1.5,2],"clip":true},
 "encoding": {
  "x": {"field":"d","type":"temporal","scale":{"type":"utc","nice":false,"domain":[{"year":2024,"month":10,"date":27,"utc":true},{"year":2025,"month":10,"date":14,"utc":true}]},"axis":null},
  "y": {"field":"p","type":"quantitative","scale":{"domain":[78.825,107.83],"nice":false,"zero":false},"axis":null}
 }},
{"data": {"name":"sma200"},
 "mark": {"type":"line","color":"#6464e0","strokeWidth":1,"clip":true},
 "encoding": {
  "x": {"field":"d","type":"temporal","scale":{"type":"utc","nice":false,"domain":[{"year":2024,"month":10,"date":27,"utc":true},{"year":2025,"month":10,"date":14,"utc":true}]},"axis":null},
  "y": {"field":"p","type":"quantitative","scale":{"domain":[78.825,107.83],"nice":false,"zero":false},"axis":null}
 }},
{"data": {"name":"candles"},
 "mark": {"type":"rule","strokeWidth":1},
 "encoding": {
  "x": {"field":"d","type":"temporal","scale":{"type":"utc","nice":false,"domain":[{"year":2024,"month":10,"date":27,"utc":true},{"year":2025,"month":10,"date":14,"utc":true}]},"axis":null},
  "y": {"field":"l","type":"quantitative","scale":{"domain":[78.825,107.83],"nice":false,"zero":false},"axis":null},
  "y2": {"field":"h"},
  "color": {"condition":{"test":"datum.c >= datum.o","value":"#98c898"},"value":"#bfa096"}
 }},
{"data": {"name":"candles"},
 "mark": {"type":"bar","width":2},
 "encoding": {
  "x": {"field":"d","type":"temporal","scale":{"type":"utc","nice":false,"domain":[{"year":2024,"month":10,"date":27,"utc":true},{"year":2025,"month":10,"date":14,"utc":true}]},"axis":null},
  "y": {"field":"o","type":"quantitative","scale":{"domain":[78.825,107.83],"nice":false,"zero":false},"axis":null},
  "y2": {"field":"c"},
  "color": {"condition":{"test":"datum.c >= datum.o","value":"#45aa45"},"value":"#9e5a48"}
 }},
{"data": {"values": [{"t":"97.96","p":98.55,"role":"last"},{"t":"97.889","p":97.38,"role":"sma50"},{"t":"94.340","p":94.15,"role":"sma200"}]},
 "mark": {"type":"rect","yOffset":-4,"y2Offset":4,"strokeWidth":0.8},
 "encoding": {
  "x": {"datum":{"year":2025,"month":10,"date":15,"utc":true},"type":"temporal","scale":{"type":"utc","nice":false,"domain":[{"year":2024,"month":10,"date":27,"utc":true},{"year":2025,"month":10,"date":14,"utc":true}]},"axis":null},
  "x2": {"datum":{"year":2025,"month":10,"date":28,"utc":true}},
  "y": {"field":"p","type":"quantitative","scale":{"domain":[78.825,107.83],"nice":false,"zero":false},"axis":null},
  "y2": {"field":"p"},
  "fill": {"condition":{"test":"datum.role === 'last'","value":"#f2d600"},"value":"#ffffff"},
  "stroke": {"condition":[{"test":"datum.role === 'last'","value":"#f2d600"},{"test":"datum.role === 'sma50'","value":"#f4b0a8"}],"value":"#a8a8ec"}
 }},
{"data": {"values": [{"t":"97.96","p":98.55,"role":"last"},{"t":"97.889","p":97.38,"role":"sma50"},{"t":"94.340","p":94.15,"role":"sma200"}]},
 "mark": {"type":"text","align":"center","baseline":"middle","fontSize":5.8},
 "encoding": {
  "x": {"datum":{"year":2025,"month":10,"date":21,"hours":2,"utc":true},"type":"temporal","scale":{"type":"utc","nice":false,"domain":[{"year":2024,"month":10,"date":27,"utc":true},{"year":2025,"month":10,"date":14,"utc":true}]},"axis":null},
  "y": {"field":"p","type":"quantitative","scale":{"domain":[78.825,107.83],"nice":false,"zero":false},"axis":null},
  "text": {"field":"t"},
  "color": {"condition":[{"test":"datum.role === 'last'","value":"#000000"},{"test":"datum.role === 'sma50'","value":"#f08078"}],"value":"#4848d8"},
  "fontWeight": {"condition":{"test":"datum.role === 'last'","value":"bold"},"value":"normal"}
 }},
{"data": {"values": [{"t":"ProRealTime.com - Fin de Día"}]},
 "mark": {"type":"text","align":"left","baseline":"bottom","dy":-0.5,"fontSize":6.5,"color":"#555"},
 "encoding": {
  "x": {"datum":{"year":2024,"month":10,"date":27,"utc":true},"type":"temporal","scale":{"type":"utc","nice":false,"domain":[{"year":2024,"month":10,"date":27,"utc":true},{"year":2025,"month":10,"date":14,"utc":true}]},"axis":null},
  "y": {"datum":78.825,"type":"quantitative","scale":{"domain":[78.825,107.83],"nice":false,"zero":false},"axis":null},
  "text": {"field":"t"}
 }}
]
},
{
"width": 577, "height": 25,
"resolve": {"axis": {"x": "independent", "y": "independent"}},
"layer": [
{"data": {"values": [{"s":"Volumen"}]},
 "mark": {"type":"square","opacity":0},
 "encoding": {"color": {"field":"s","type":"nominal","scale":{"domain":["Volumen"],"range":["#5bbf5b"]},"legend":{"title":null}}}},
{"data": {"name":"candles"},
 "mark": {"type":"bar","width":1.6},
 "encoding": {
  "x": {"field":"d","type":"temporal","title":null,"scale":{"type":"utc","nice":false,"domain":[{"year":2024,"month":10,"date":27,"utc":true},{"year":2025,"month":10,"date":14,"utc":true}]},"axis":{"orient":"bottom","values":[{"year":2025,"month":1,"date":1,"utc":true}],"grid":true,"gridColor":"#e2e2e2","labels":false,"ticks":false,"domain":false}},
  "y": {"field":"v","type":"quantitative","title":null,"stack":null,"scale":{"domain":[0,61.6],"nice":false},"axis":{"orient":"right","values":[0,20,40],"labelExpr":"datum.value === 0 ? '0' : datum.value + 'M'","tickSize":3,"tickColor":"#999","domain":false,"grid":false,"labelPadding":1,"labelFontWeight":{"condition":{"test":"datum.value === 0","value":"bold"},"value":"normal"}}},
  "color": {"condition":{"test":"datum.c >= datum.o","value":"#5cc45c"},"value":"#e46a6a"}
 }},
{"data": {"values": [{"t":"51.7M","v":50.5}]},
 "mark": {"type":"rect","yOffset":-4,"y2Offset":4,"fill":"#ffffff","stroke":"#c8c8c8","strokeWidth":0.8},
 "encoding": {
  "x": {"datum":{"year":2025,"month":10,"date":15,"utc":true},"type":"temporal","scale":{"type":"utc","nice":false,"domain":[{"year":2024,"month":10,"date":27,"utc":true},{"year":2025,"month":10,"date":14,"utc":true}]},"axis":null},
  "x2": {"datum":{"year":2025,"month":10,"date":28,"utc":true}},
  "y": {"field":"v","type":"quantitative","scale":{"domain":[0,61.6],"nice":false},"axis":null},
  "y2": {"field":"v"}
 }},
{"data": {"values": [{"t":"51.7M","v":50.5}]},
 "mark": {"type":"text","align":"center","baseline":"middle","fontSize":5.8,"color":"#e05a5a"},
 "encoding": {
  "x": {"datum":{"year":2025,"month":10,"date":21,"hours":2,"utc":true},"type":"temporal","scale":{"type":"utc","nice":false,"domain":[{"year":2024,"month":10,"date":27,"utc":true},{"year":2025,"month":10,"date":14,"utc":true}]},"axis":null},
  "y": {"field":"v","type":"quantitative","scale":{"domain":[0,61.6],"nice":false},"axis":null},
  "text": {"field":"t"}
 }}
]
},
{
"width": 577, "height": 40,
"resolve": {"axis": {"x": "independent", "y": "independent"}},
"layer": [
{"data": {"values": [{"s":"RSI (14)"}]},
 "mark": {"type":"square","opacity":0},
 "encoding": {"color": {"field":"s","type":"nominal","scale":{"domain":["RSI (14)"],"range":["#000000"]},"legend":{"title":null}}}},
{"data": {"values": [{"r":70},{"r":30}]},
 "mark": {"type":"rule","color":"#8c8ce2","strokeWidth":1.3},
 "encoding": {"y": {"field":"r","type":"quantitative","scale":{"domain":[-5.7,108.6],"nice":false,"zero":false},"axis":null}}},
{"data": {"name":"rsi"},
 "mark": {"type":"line","color":"#333333","strokeWidth":1},
 "encoding": {
  "x": {"field":"d","type":"temporal","title":null,"scale":{"type":"utc","nice":false,"domain":[{"year":2024,"month":10,"date":27,"utc":true},{"year":2025,"month":10,"date":14,"utc":true}]},"axis":{"orient":"bottom","values":[{"year":2025,"month":1,"date":1,"utc":true}],"grid":true,"gridColor":"#e2e2e2","labels":false,"ticks":false,"domain":false}},
  "y": {"field":"r","type":"quantitative","title":null,"scale":{"domain":[-5.7,108.6],"nice":false,"zero":false},"axis":{"orient":"right","values":[0,100],"tickSize":3,"tickColor":"#999","domain":false,"grid":false,"labelPadding":1,"labelFontWeight":"bold"}}
 }},
{"data": {"values": [{"t":"43.810","r":44.3}]},
 "mark": {"type":"rect","yOffset":-4,"y2Offset":4,"fill":"#ffffff","stroke":"#c8c8c8","strokeWidth":0.8},
 "encoding": {
  "x": {"datum":{"year":2025,"month":10,"date":15,"utc":true},"type":"temporal","scale":{"type":"utc","nice":false,"domain":[{"year":2024,"month":10,"date":27,"utc":true},{"year":2025,"month":10,"date":14,"utc":true}]},"axis":null},
  "x2": {"datum":{"year":2025,"month":10,"date":28,"utc":true}},
  "y": {"field":"r","type":"quantitative","scale":{"domain":[-5.7,108.6],"nice":false,"zero":false},"axis":null},
  "y2": {"field":"r"}
 }},
{"data": {"values": [{"t":"43.810","r":44.3}]},
 "mark": {"type":"text","align":"center","baseline":"middle","fontSize":5.8,"color":"#333"},
 "encoding": {
  "x": {"datum":{"year":2025,"month":10,"date":21,"hours":2,"utc":true},"type":"temporal","scale":{"type":"utc","nice":false,"domain":[{"year":2024,"month":10,"date":27,"utc":true},{"year":2025,"month":10,"date":14,"utc":true}]},"axis":null},
  "y": {"field":"r","type":"quantitative","scale":{"domain":[-5.7,108.6],"nice":false,"zero":false},"axis":null},
  "text": {"field":"t"}
 }}
]
},
{
"width": 577, "height": 34,
"resolve": {"axis": {"x": "independent", "y": "independent"}},
"layer": [
{"data": {"values": [{"s":"MACD (12 26 9)"}]},
 "mark": {"type":"square","opacity":0},
 "encoding": {"color": {"field":"s","type":"nominal","scale":{"domain":["MACD (12 26 9)"],"range":["#6a6ae0"]},"legend":{"title":null}}}},
{"data": {"values": [{"z":0}]},
 "mark": {"type":"rule","color":"#8c8ce2","strokeWidth":1.3},
 "encoding": {"y": {"field":"z","type":"quantitative","scale":{"domain":[-3.02,3.4],"nice":false,"zero":false},"axis":null}}},
{"data": {"name":"candles"},
 "mark": {"type":"bar","width":1.2},
 "encoding": {
  "x": {"field":"d","type":"temporal","title":null,"scale":{"type":"utc","nice":false,"domain":[{"year":2024,"month":10,"date":27,"utc":true},{"year":2025,"month":10,"date":14,"utc":true}]},"axis":{"orient":"bottom","values":[{"year":2024,"month":11,"date":1,"utc":true},{"year":2024,"month":12,"date":1,"utc":true},{"year":2025,"month":1,"date":1,"utc":true},{"year":2025,"month":2,"date":1,"utc":true},{"year":2025,"month":3,"date":1,"utc":true},{"year":2025,"month":4,"date":1,"utc":true},{"year":2025,"month":5,"date":1,"utc":true},{"year":2025,"month":6,"date":1,"utc":true},{"year":2025,"month":7,"date":1,"utc":true},{"year":2025,"month":8,"date":1,"utc":true},{"year":2025,"month":9,"date":1,"utc":true},{"year":2025,"month":10,"date":1,"utc":true}],"labelExpr":"utcmonth(datum.value) === 0 ? '' + utcyear(datum.value) : ['ene','feb','mar','abr','may','jun','jul','ago','sept','oct','nov','dic'][utcmonth(datum.value)]","labelFontWeight":{"condition":{"test":"utcmonth(datum.value) === 0","value":"bold"},"value":"normal"},"grid":true,"gridColor":"#e2e2e2","gridOpacity":{"condition":{"test":"utcmonth(datum.value) === 0","value":1},"value":0},"ticks":false,"domain":false,"labelPadding":2}},
  "y": {"field":"m","type":"quantitative","scale":{"domain":[-3.02,3.4],"nice":false,"zero":false},"axis":null},
  "color": {"condition":{"test":"datum.m >= 0","value":"#5cc45c"},"value":"#e46a6a"}
 }},
{"data": {"name":"signal"},
 "mark": {"type":"line","color":"#f08a84","strokeWidth":1},
 "encoding": {
  "x": {"field":"d","type":"temporal","scale":{"type":"utc","nice":false,"domain":[{"year":2024,"month":10,"date":27,"utc":true},{"year":2025,"month":10,"date":14,"utc":true}]},"axis":null},
  "y": {"field":"v","type":"quantitative","scale":{"domain":[-3.02,3.4],"nice":false,"zero":false},"axis":null}
 }},
{"data": {"name":"macd"},
 "mark": {"type":"line","color":"#5a5ae4","strokeWidth":1},
 "encoding": {
  "x": {"field":"d","type":"temporal","scale":{"type":"utc","nice":false,"domain":[{"year":2024,"month":10,"date":27,"utc":true},{"year":2025,"month":10,"date":14,"utc":true}]},"axis":null},
  "y": {"field":"v","type":"quantitative","scale":{"domain":[-3.02,3.4],"nice":false,"zero":false},"axis":null}
 }},
{"data": {"values": [{"t":"1.2034","v":1.98,"role":"signal"},{"t":"0.8871","v":0.94,"role":"macd"},{"t":"-0.3164","v":-0.57,"role":"hist"}]},
 "mark": {"type":"rect","yOffset":-4,"y2Offset":4,"fill":"#ffffff","stroke":"#c8c8c8","strokeWidth":0.8},
 "encoding": {
  "x": {"datum":{"year":2025,"month":10,"date":15,"utc":true},"type":"temporal","scale":{"type":"utc","nice":false,"domain":[{"year":2024,"month":10,"date":27,"utc":true},{"year":2025,"month":10,"date":14,"utc":true}]},"axis":null},
  "x2": {"datum":{"year":2025,"month":10,"date":28,"utc":true}},
  "y": {"field":"v","type":"quantitative","scale":{"domain":[-3.02,3.4],"nice":false,"zero":false},"axis":null},
  "y2": {"field":"v"}
 }},
{"data": {"values": [{"t":"1.2034","v":1.98,"role":"signal"},{"t":"0.8871","v":0.94,"role":"macd"},{"t":"-0.3164","v":-0.57,"role":"hist"}]},
 "mark": {"type":"text","align":"center","baseline":"middle","fontSize":5.8},
 "encoding": {
  "x": {"datum":{"year":2025,"month":10,"date":21,"hours":2,"utc":true},"type":"temporal","scale":{"type":"utc","nice":false,"domain":[{"year":2024,"month":10,"date":27,"utc":true},{"year":2025,"month":10,"date":14,"utc":true}]},"axis":null},
  "y": {"field":"v","type":"quantitative","scale":{"domain":[-3.02,3.4],"nice":false,"zero":false},"axis":null},
  "text": {"field":"t"},
  "color": {"condition":{"test":"datum.role === 'macd'","value":"#4848d8"},"value":"#e05a5a"}
 }}
]
}
]
}
